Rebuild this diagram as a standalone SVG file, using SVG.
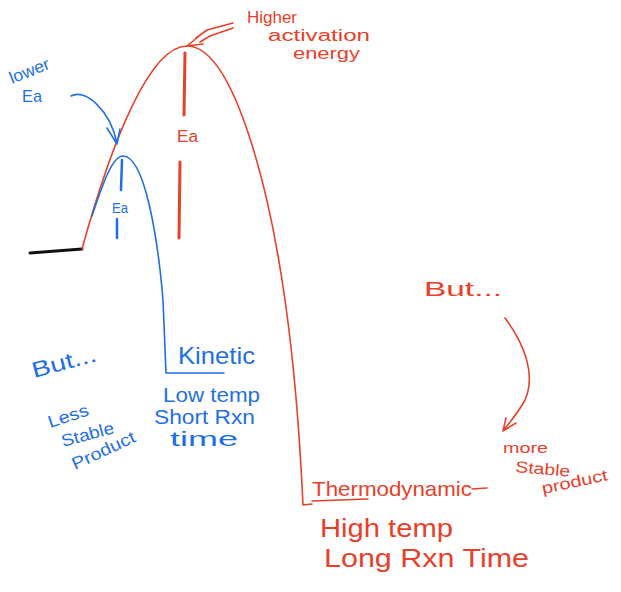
<svg xmlns="http://www.w3.org/2000/svg" width="621" height="592" viewBox="0 0 621 592">
<style>
.r{stroke:#e8402a;fill:none;stroke-width:1.6;stroke-linecap:round;stroke-linejoin:round}
.rt{stroke:#e8402a;fill:none;stroke-width:3;stroke-linecap:round}
.b{stroke:#1f6fe6;fill:none;stroke-width:1.6;stroke-linecap:round;stroke-linejoin:round}
.bt{stroke:#1f6fe6;fill:none;stroke-width:2.5;stroke-linecap:round}
text{font-family:"Liberation Sans","DejaVu Sans",sans-serif;}
.tr{fill:#e8402a}
.tb{fill:#1f6fe6}
</style>
<rect width="621" height="592" fill="#ffffff"/>
<g id="connectors">
  <path d="M30,253 L82,249" stroke="#111" stroke-width="3" fill="none" stroke-linecap="round"/>
  <path class="r" d="M82,249 C112,140 150,46 187,46 C232,46 268,180 285,300 C295,370 300,440 303,505 L312,504"/>
  <path class="b" d="M92,216 C102,186 112,156 123,156 C145,156 158,240 163,300 L166,373 L224,373"/>
  <path class="bt" d="M122,160 L121,190 M117,219 L117,238"/>
  <path class="rt" d="M185,53 L184,115 M180,162 L179,238"/>
  <path class="b" stroke-width="2" d="M71,96 C85,88 110,110 117,143 M107,128 L117,144 L120,129"/>
  <path class="r" stroke-width="2" d="M233,23 L207,30 L196,38 M233,28 L210,36 L200,42 M187,46 L198,37 M187,46 L203,44"/>
  <path class="r" stroke-width="2" d="M505,318 C525,345 536,375 525,400 C518,413 510,422 503,431 M506,418 L503,431 M503,431 L516,423"/>
  <path class="r" stroke-width="2" d="M312,501 L368,499"/>
  <path class="r" stroke-width="2" d="M472,489 L487,488"/>
</g>
<g id="lowerEa">
  <text class="tb" x="12" y="84" font-size="17" transform="rotate(-22 12 84)" textLength="42" lengthAdjust="spacingAndGlyphs">lower</text>
  <text class="tb" x="22" y="102" font-size="17" textLength="20" lengthAdjust="spacingAndGlyphs">Ea</text>
</g>
<g id="blueEa"><text class="tb" x="112" y="213" font-size="14" textLength="16" lengthAdjust="spacingAndGlyphs">Ea</text></g>
<g id="redEa"><text class="tr" x="177" y="142" font-size="16" textLength="21" lengthAdjust="spacingAndGlyphs">Ea</text></g>
<g id="higher">
  <text class="tr" x="247" y="23" font-size="16" textLength="50" lengthAdjust="spacingAndGlyphs">Higher</text>
  <text class="tr" x="268" y="41" font-size="16" textLength="102" lengthAdjust="spacingAndGlyphs">activation</text>
  <text class="tr" x="293" y="59" font-size="16" textLength="67" lengthAdjust="spacingAndGlyphs">energy</text>
</g>
<g id="butBlue"><text class="tb" x="34" y="378" font-size="22" transform="rotate(-15 34 378)" textLength="66" lengthAdjust="spacingAndGlyphs">But...</text></g>
<g id="lessStable">
  <text class="tb" x="50" y="428" font-size="17" transform="rotate(-18 50 428)" textLength="42" lengthAdjust="spacingAndGlyphs">Less</text>
  <text class="tb" x="63" y="447" font-size="17" transform="rotate(-15 63 447)" textLength="54" lengthAdjust="spacingAndGlyphs">Stable</text>
  <text class="tb" x="75" y="470" font-size="17" transform="rotate(-25 75 470)" textLength="68" lengthAdjust="spacingAndGlyphs">Product</text>
</g>
<g id="kinetic">
  <text class="tb" x="178" y="364" font-size="24" textLength="77" lengthAdjust="spacingAndGlyphs">Kinetic</text>
  <text class="tb" x="163" y="402" font-size="21" textLength="97" lengthAdjust="spacingAndGlyphs">Low temp</text>
  <text class="tb" x="154" y="424" font-size="21" textLength="101" lengthAdjust="spacingAndGlyphs">Short Rxn</text>
  <text class="tb" x="170" y="446" font-size="21" textLength="68" lengthAdjust="spacingAndGlyphs">time</text>
</g>
<g id="butRed"><text class="tr" x="424" y="296" font-size="21" textLength="78" lengthAdjust="spacingAndGlyphs">But...</text></g>
<g id="moreStable">
  <text class="tr" x="503" y="453" font-size="15" textLength="45" lengthAdjust="spacingAndGlyphs">more</text>
  <text class="tr" x="515" y="472" font-size="16" transform="rotate(5 515 472)" textLength="55" lengthAdjust="spacingAndGlyphs">Stable</text>
  <text class="tr" x="543" y="494" font-size="16" transform="rotate(-12 543 494)" textLength="67" lengthAdjust="spacingAndGlyphs">product</text>
</g>
<g id="thermo">
  <text class="tr" x="312" y="496" font-size="21" textLength="160" lengthAdjust="spacingAndGlyphs">Thermodynamic</text>
  <text class="tr" x="320" y="537" font-size="25" textLength="133" lengthAdjust="spacingAndGlyphs">High temp</text>
  <text class="tr" x="324" y="567" font-size="25" textLength="205" lengthAdjust="spacingAndGlyphs">Long Rxn Time</text>
</g>
</svg>
